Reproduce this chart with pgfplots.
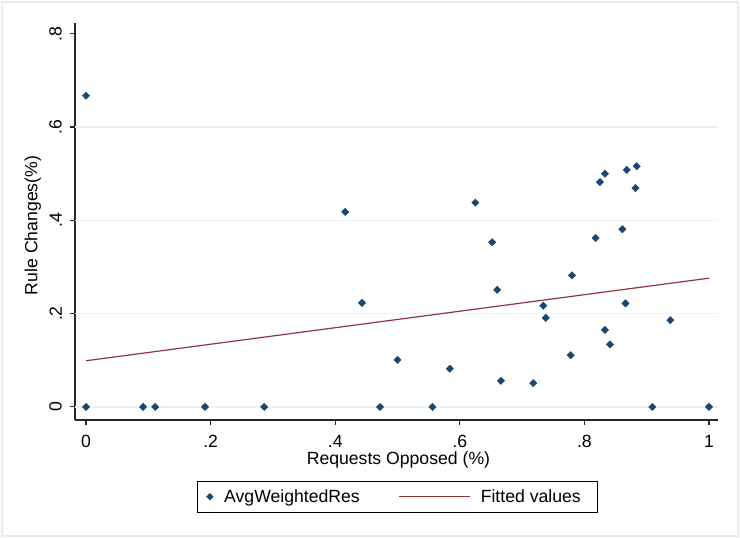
\documentclass[border=0pt]{standalone}
\usepackage{pgfplots}
\pgfplotsset{compat=1.18}
\usepackage{fontspec}
\setmainfont{Liberation Sans}
\definecolor{stnavy}{HTML}{1A476F}
\definecolor{stmaroon}{HTML}{90353B}
\definecolor{stgrid}{HTML}{EAF2F3}
\definecolor{stframe}{HTML}{E4ECF0}
\newcommand{\chfont}{\fontsize{17.7}{21}\selectfont}
\pgfplotsset{
  legmark/.style={legend image code/.code={\path[draw=none,fill=none] (0bp,0bp) -- (27bp,0bp); \draw[##1, mark size=2.1bp] plot coordinates {(12.7bp,0bp)};}},
  legline/.style={legend image code/.code={\path[draw=none,fill=none] (0bp,0bp) -- (121bp,0bp); \draw[##1] (39.3bp,0bp) -- (110bp,0bp);}},
}
\begin{document}
\begin{tikzpicture}[x=1bp,y=1bp]
\useasboundingbox (0,0) rectangle (740,538);
\draw[color=stframe, line width=1.5bp] (2,2) rectangle (738,536);
\begin{axis}[
  at={(75bp,118bp)}, anchor=south west,
  width=643bp, height=397bp, scale only axis,
  xmin=-0.0177, xmax=1.0145, ymin=-0.028, ymax=0.823,
  axis x line*=bottom, axis y line*=left,
  axis line style={-, line width=1.1bp, black!85},
  xtick={0,0.2,0.4,0.6,0.8,1}, xticklabels={0,.2,.4,.6,.8,1},
  ytick={0,0.2,0.4,0.6,0.8}, yticklabels={0,.2,.4,.6,.8},
  tick align=outside, major tick length=5bp,
  tick style={line width=1.1bp, black!85},
  yticklabel style={rotate=90, anchor=south, inner sep=0pt, yshift=8bp},
  xticklabel style={anchor=north, inner sep=0pt, yshift=-10bp},
  extra y ticks={0,0.2,0.4,0.6}, extra y tick labels={},
  extra y tick style={grid=major, major tick length=0pt, grid style={stgrid, line width=1.3bp}},
  tick label style={font=\chfont},
  label style={font=\chfont},
  xlabel={Requests Opposed (\%)}, ylabel={Rule Changes(\%)},
  xlabel style={at={(axis description cs:0.503,-0.1)}, anchor=center},
  ylabel style={at={(axis description cs:-0.0656,0.490)}, anchor=center, rotate=0},
  legend style={at={(axis description cs:0.5012,-0.1932)}, anchor=center,
    draw=black, line width=1bp, font=\chfont,
    inner xsep=0pt, inner ysep=8.3bp, column sep=0pt,
    nodes={inner sep=0pt, anchor=west}},
  legend columns=2,
]
\addplot[only marks, mark=square*, mark size=2.6bp, mark options={rotate=45, fill=stnavy, draw=stnavy}, legmark]
  table {
x y
0 0.667
0 0
0.0915 0
0.111 0
0.191 0
0.286 0
0.416 0.418
0.443 0.223
0.472 0
0.500 0.101
0.556 0
0.584 0.082
0.625 0.438
0.652 0.353
0.660 0.251
0.666 0.056
0.718 0.051
0.734 0.217
0.738 0.191
0.778 0.111
0.780 0.282
0.818 0.362
0.825 0.482
0.833 0.500
0.833 0.165
0.841 0.134
0.861 0.381
0.866 0.222
0.868 0.508
0.882 0.469
0.884 0.516
0.909 0
0.938 0.186
1.000 0
};
\addlegendentry{AvgWeightedRes}
\addplot[color=stmaroon, line width=1.2bp, no marks, legline]
  coordinates {(0,0.099) (1,0.276)};
\addlegendentry{Fitted values\hspace*{16.6bp}}
\end{axis}
\end{tikzpicture}
\end{document}
